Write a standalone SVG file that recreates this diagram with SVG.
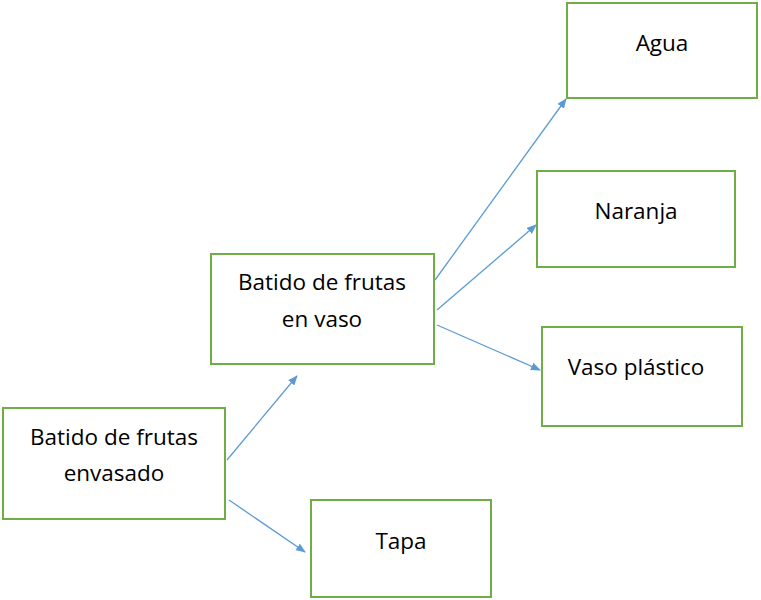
<svg xmlns="http://www.w3.org/2000/svg" width="761" height="600" viewBox="0 0 761 600">
<style>
.b{fill:#fff;stroke:#70ad47;stroke-width:2}
.t{font-family:"Open Sans","Liberation Sans",sans-serif;font-size:22.5px;fill:#000;text-anchor:middle}
.c{stroke:#5b9bd5;stroke-width:1.3;fill:none;marker-end:url(#a)}
</style>
<defs><marker id="a" markerWidth="10" markerHeight="8" refX="9" refY="4" orient="auto" markerUnits="userSpaceOnUse"><path d="M0,0L10,4L0,8z" fill="#5b9bd5"/></marker></defs>
<rect width="761" height="600" fill="#fff"/>
<g id="agua"><rect class="b" x="567" y="3" width="190" height="95"/><text class="t" x="662" y="51">Agua</text></g>
<g id="naranja"><rect class="b" x="537" y="171" width="198" height="96"/><text class="t" x="636" y="219">Naranja</text></g>
<g id="vaso"><rect class="b" x="542" y="327" width="200" height="99"/><text class="t" x="636" y="375">Vaso plástico</text></g>
<g id="enVaso"><rect class="b" x="211" y="254" width="223" height="110"/><text class="t" x="322" y="290">Batido de frutas</text><text class="t" x="322" y="327">en vaso</text></g>
<g id="envasado"><rect class="b" x="3" y="408" width="222" height="111"/><text class="t" x="114" y="445">Batido de frutas</text><text class="t" x="114" y="481">envasado</text></g>
<g id="tapa"><rect class="b" x="311" y="500" width="180" height="97"/><text class="t" x="401" y="549">Tapa</text></g>
<g id="connectors">
<line class="c" x1="435" y1="280" x2="566" y2="99"/>
<line class="c" x1="437" y1="310" x2="536" y2="225"/>
<line class="c" x1="437" y1="325" x2="540" y2="370"/>
<line class="c" x1="227" y1="460" x2="297" y2="376"/>
<line class="c" x1="229" y1="500" x2="305" y2="552"/>
</g>
</svg>
